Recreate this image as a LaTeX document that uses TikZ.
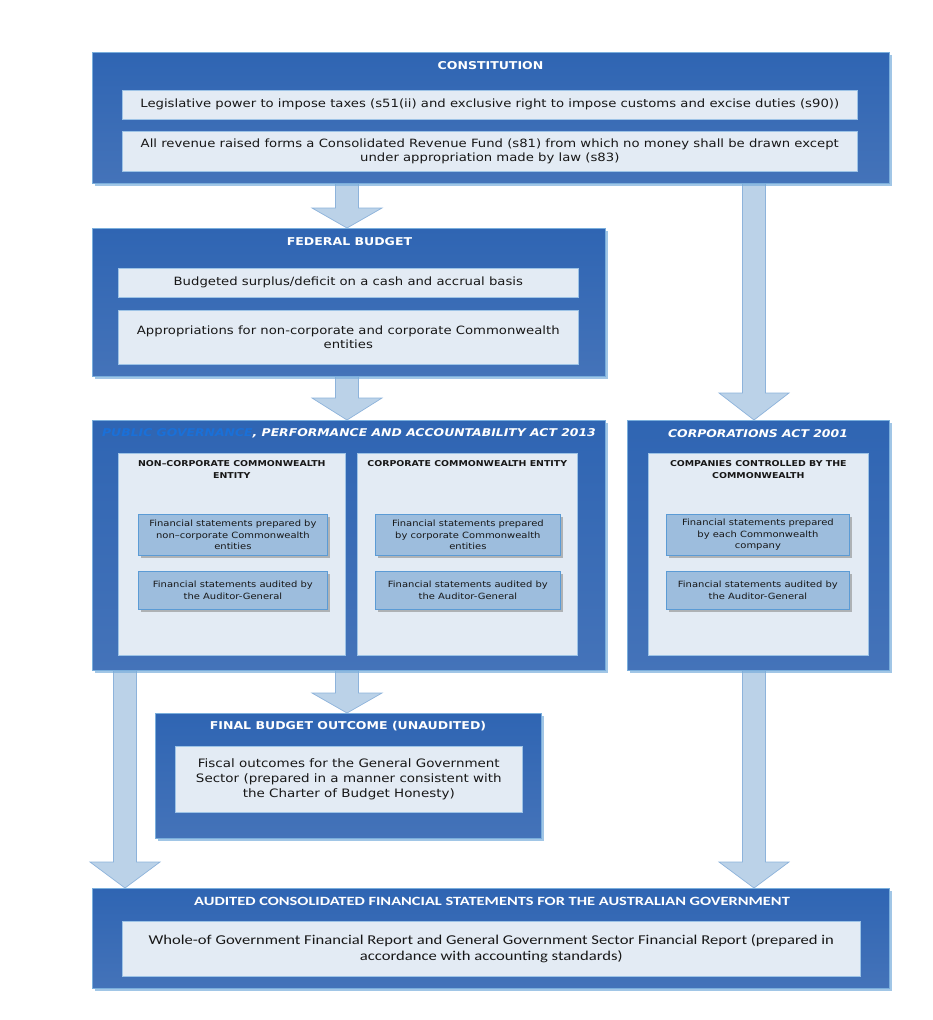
\documentclass[tikz,border=0pt]{standalone}
\usepackage{fontspec}
\setmainfont[FakeStretch=1.16]{DejaVu Sans}
\newfontfamily\calibh[FakeStretch=1.3]{Carlito}
\newfontfamily\calib[FakeStretch=1.23]{Carlito}
\usetikzlibrary{shadows,calc}
\definecolor{outtop}{HTML}{2F65B3}
\definecolor{outbot}{HTML}{4473B9}
\definecolor{outedge}{HTML}{7AAEDC}
\definecolor{innfill}{HTML}{E3EBF4}
\definecolor{innedge}{HTML}{9DC3E6}
\definecolor{smfill}{HTML}{9DBDDD}
\definecolor{smedge}{HTML}{5B9BD5}
\definecolor{arfill}{HTML}{BBD2E8}
\definecolor{aredge}{HTML}{8DB3DB}
\definecolor{txt}{HTML}{171717}
\definecolor{pgblue}{HTML}{1A70D8}
\tikzset{
  outerbox/.style={rectangle, anchor=north west, inner sep=0pt, top color=outtop, bottom color=outbot, draw=outedge, line width=1pt,
     drop shadow={shadow xshift=2.5pt, shadow yshift=-2.5pt, fill=outedge, opacity=0.7}},
  innerbox/.style={rectangle, anchor=north west, inner sep=0pt, fill=innfill, draw=innedge, line width=0.6pt},
  smallbox/.style={rectangle, anchor=north west, inner sep=0pt, fill=smfill, draw=smedge, line width=0.8pt,
     drop shadow={shadow xshift=3pt, shadow yshift=-3pt, fill=black!45, opacity=0.6}},
  hdr/.style={text=white, font=\fontsize{10.8}{13}\selectfont\bfseries, inner sep=0pt},
  ithdr/.style={text=white, font=\fontsize{10.7}{13}\selectfont\bfseries\itshape, inner sep=0pt},
  body/.style={text=txt, font=\fontsize{11.4}{14.5}\selectfont, align=center, inner sep=0pt},
  subhdr/.style={text=txt, font=\fontsize{8.1}{11.5}\selectfont\bfseries, align=center, inner sep=0pt},
  smtxt/.style={text=txt, font=\fontsize{8.6}{11.5}\selectfont, align=center, inner sep=0pt},
  blockarr/.style={fill=arfill, draw=aredge, line width=0.7pt, line join=miter}
}
% #1 top coordinate, #2 tip coordinate, #3 head length
\newcommand{\blockarrow}[3]{%
  \draw[blockarr] ($(#1)+(-11.5,0)$) -- ($(#2)+(-11.5,-#3)$) -- ($(#2)+(-35,-#3)$) -- (#2)
     -- ($(#2)+(35,-#3)$) -- ($(#2)+(11.5,-#3)$) -- ($(#1)+(11.5,0)$) -- cycle;}
\begin{document}
\begin{tikzpicture}[x=1pt,y=-1pt]
\useasboundingbox[fill=white] (0,0) rectangle (932,1020);

% arrows (drawn first, behind boxes)
\coordinate (a1t) at (347,183);  \coordinate (a1h) at (347,228);
\coordinate (a2t) at (754,183);  \coordinate (a2h) at (754,420);
\coordinate (a3t) at (347,376);  \coordinate (a3h) at (347,420);
\coordinate (a4t) at (347,670);  \coordinate (a4h) at (347,713);
\coordinate (a5t) at (125,670);  \coordinate (a5h) at (125,888);
\coordinate (a6t) at (754,670);  \coordinate (a6h) at (754,888);
\blockarrow{a1t}{a1h}{20}
\blockarrow{a2t}{a2h}{27}
\blockarrow{a3t}{a3h}{22}
\blockarrow{a4t}{a4h}{20}
\blockarrow{a5t}{a5h}{26}
\blockarrow{a6t}{a6h}{26}

% CONSTITUTION
\node[outerbox, minimum width=797pt, minimum height=131pt] (const) at (92,52) {};
\node[hdr] (consth) at (490.5,65.5) {CONSTITUTION};
\node[innerbox, minimum width=735pt, minimum height=29pt] (c1) at (122,90) {};
\node[body] at (c1.center) {Legislative power to impose taxes (s51(ii) and exclusive right to impose customs and excise duties (s90))};
\node[innerbox, minimum width=735pt, minimum height=40pt] (c2) at (122,131) {};
\node[body] at (c2.center) {All revenue raised forms a Consolidated Revenue Fund (s81) from which no money shall be drawn except\\under appropriation made by law (s83)};

% FEDERAL BUDGET
\node[outerbox, minimum width=513pt, minimum height=148pt] (fb) at (92,228) {};
\node[hdr] (fbh) at (349.5,241.5) {FEDERAL BUDGET};
\node[innerbox, minimum width=460pt, minimum height=29pt] (f1) at (118,268) {};
\node[body] at (f1.center) {Budgeted surplus/deficit on a cash and accrual basis};
\node[innerbox, minimum width=460pt, minimum height=54pt] (f2) at (118,310) {};
\node[body] at (f2.center) {Appropriations for non-corporate and corporate Commonwealth\\entities};

% PGPA
\node[outerbox, minimum width=513pt, minimum height=250pt] (pg) at (92,420) {};
\node[ithdr] (pgh) at (349,433.5) {\textcolor{pgblue}{PUBLIC GOVERNANCE}, PERFORMANCE AND ACCOUNTABILITY ACT 2013};
\node[innerbox, minimum width=227pt, minimum height=202pt] (pl) at (118,453) {};
\node[subhdr, anchor=north] at ($(pl.north)+(0,7.5)$) {NON–CORPORATE COMMONWEALTH\\ENTITY};
\node[innerbox, minimum width=220pt, minimum height=202pt] (pr) at (357,453) {};
\node[subhdr, anchor=north] at ($(pr.north)+(0,7.5)$) {CORPORATE COMMONWEALTH ENTITY};
\node[smallbox, minimum width=189pt, minimum height=41pt] (pl1) at (138,514) {};
\node[smtxt] at (pl1.center) {Financial statements prepared by\\non–corporate Commonwealth\\entities};
\node[smallbox, minimum width=189pt, minimum height=38pt] (pl2) at (138,571) {};
\node[smtxt] at (pl2.center) {Financial statements audited by\\the Auditor-General};
\node[smallbox, minimum width=185pt, minimum height=41pt] (pr1) at (375,514) {};
\node[smtxt] at (pr1.center) {Financial statements prepared\\by corporate Commonwealth\\entities};
\node[smallbox, minimum width=185pt, minimum height=38pt] (pr2) at (375,571) {};
\node[smtxt] at (pr2.center) {Financial statements audited by\\the Auditor-General};

% CORPORATIONS ACT
\node[outerbox, minimum width=262pt, minimum height=250pt] (ca) at (627,420) {};
\node[ithdr] (cah) at (758,433.5) {CORPORATIONS ACT 2001};
\node[innerbox, minimum width=220pt, minimum height=202pt] (cin) at (648,453) {};
\node[subhdr, anchor=north] at ($(cin.north)+(0,7.5)$) {COMPANIES CONTROLLED BY THE\\COMMONWEALTH};
\node[smallbox, minimum width=183pt, minimum height=41pt] (ca1) at (666,514) {};
\node[smtxt] at (ca1.center) {Financial statements prepared\\by each Commonwealth\\company};
\node[smallbox, minimum width=183pt, minimum height=38pt] (ca2) at (666,571) {};
\node[smtxt] at (ca2.center) {Financial statements audited by\\the Auditor-General};

% FINAL BUDGET OUTCOME
\node[outerbox, minimum width=386pt, minimum height=125pt] (fbo) at (155,713) {};
\node[hdr] (fboh) at (348,726.5) {FINAL BUDGET OUTCOME (UNAUDITED)};
\node[innerbox, minimum width=347pt, minimum height=66pt] (fbo1) at (175,746) {};
\node[body, font=\fontsize{11.6}{15}\selectfont] at (fbo1.center) {Fiscal outcomes for the General Government\\Sector (prepared in a manner consistent with\\the Charter of Budget Honesty)};

% AUDITED CONSOLIDATED
\node[outerbox, minimum width=797pt, minimum height=100pt] (acf) at (92,888) {};
\node[hdr, font=\fontsize{12.6}{15}\selectfont\calibh\bfseries] (acfh) at (492,901.5) {AUDITED CONSOLIDATED FINANCIAL STATEMENTS FOR THE AUSTRALIAN GOVERNMENT};
\node[innerbox, minimum width=738pt, minimum height=55pt] (acf1) at (122,921) {};
\node[body, font=\fontsize{13.5}{16}\selectfont\calib] at (acf1.center) {Whole-of Government Financial Report and General Government Sector Financial Report (prepared in\\accordance with accounting standards)};
\end{tikzpicture}
\end{document}
